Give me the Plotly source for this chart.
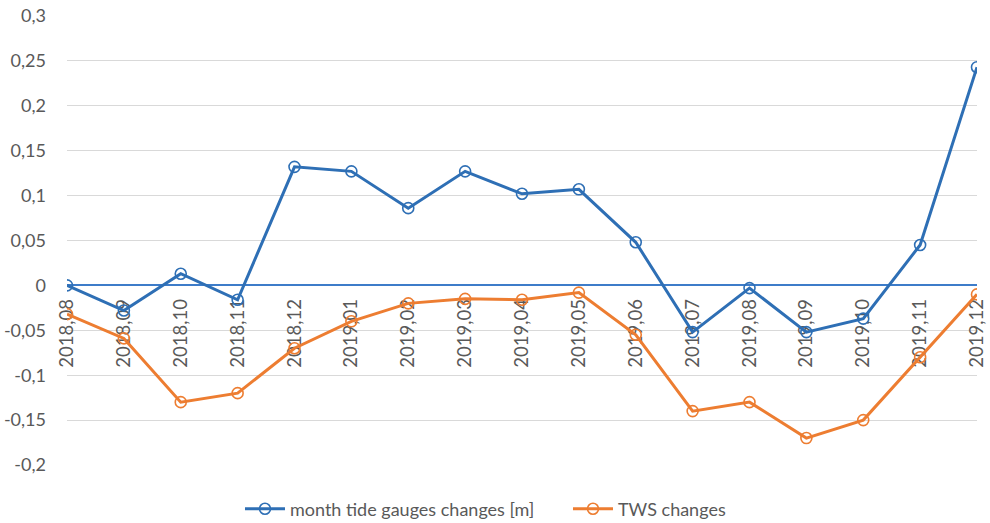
import plotly.graph_objects as go

categories = ["2018,08", "2018,09", "2018,10", "2018,11", "2018,12", "2019,01",
              "2019,02", "2019,03", "2019,04", "2019,05", "2019,06", "2019,07",
              "2019,08", "2019,09", "2019,10", "2019,11", "2019,12"]
tide_gauges = [0.0, -0.028, 0.013, -0.016, 0.132, 0.127, 0.086, 0.127, 0.102,
               0.107, 0.048, -0.052, -0.003, -0.052, -0.037, 0.045, 0.243]
tws = [-0.032, -0.059, -0.13, -0.12, -0.07, -0.04, -0.02, -0.015, -0.016,
       -0.008, -0.055, -0.14, -0.13, -0.17, -0.15, -0.08, -0.01]
y_tickvals = [-0.2, -0.15, -0.1, -0.05, 0, 0.05, 0.1, 0.15, 0.2, 0.25, 0.3]
y_ticktext = ["-0,2", "-0,15", "-0,1", "-0,05", "0", "0,05", "0,1", "0,15", "0,2", "0,25", "0,3"]

BLUE = "#2E6FB5"
ORANGE = "#ED7D31"
GRAY = "#595959"
FONT = "Lato"

fig = go.Figure()
fig.add_trace(go.Scatter(
    x=categories, y=tide_gauges, mode="lines+markers",
    name="month tide gauges changes [m]",
    line=dict(color=BLUE, width=3),
    marker=dict(symbol="circle-open", size=11, color=BLUE, line=dict(width=1.6, color=BLUE)),
))
fig.add_trace(go.Scatter(
    x=categories, y=tws, mode="lines+markers",
    name="TWS changes",
    line=dict(color=ORANGE, width=3),
    marker=dict(symbol="circle-open", size=11, color=ORANGE, line=dict(width=1.6, color=ORANGE)),
))

fig.update_layout(
    width=990, height=523,
    margin=dict(l=67, r=13, t=16, b=58, autoexpand=False),
    paper_bgcolor="white", plot_bgcolor="white",
    font=dict(family=FONT, size=18, color=GRAY),
    showlegend=True,
    legend=dict(orientation="h", x=0.1901, xanchor="left",
                y=-0.098, yanchor="middle",
                font=dict(family=FONT, size=18, color=GRAY),
                itemwidth=40, tracegroupgap=0, entrywidth=273),
    xaxis=dict(
        type="category", categoryorder="array", categoryarray=categories,
        range=[0, len(categories) - 1],
        anchor="free", position=0.4,
        showgrid=False, zeroline=False, showline=False,
        ticks="", tickangle=-90, ticklabelstandoff=9,
        ticklabeloverflow="allow",
        tickfont=dict(family=FONT, size=18.5, color=GRAY),
        layer="below traces",
    ),
    yaxis=dict(
        range=[-0.2, 0.3], domain=[0, 1],
        tickvals=y_tickvals, ticktext=y_ticktext,
        showgrid=True, gridcolor="#D9D9D9", gridwidth=1,
        zeroline=True, zerolinecolor="#3D7CC9", zerolinewidth=1.5,
        showline=False, ticks="", ticklabelstandoff=20,
        ticklabeloverflow="allow",
        tickfont=dict(family=FONT, size=18, color=GRAY),
    ),
)

fig.write_html("out.html", config={"displayModeBar": False},
               post_script="document.body.style.margin='0';")
